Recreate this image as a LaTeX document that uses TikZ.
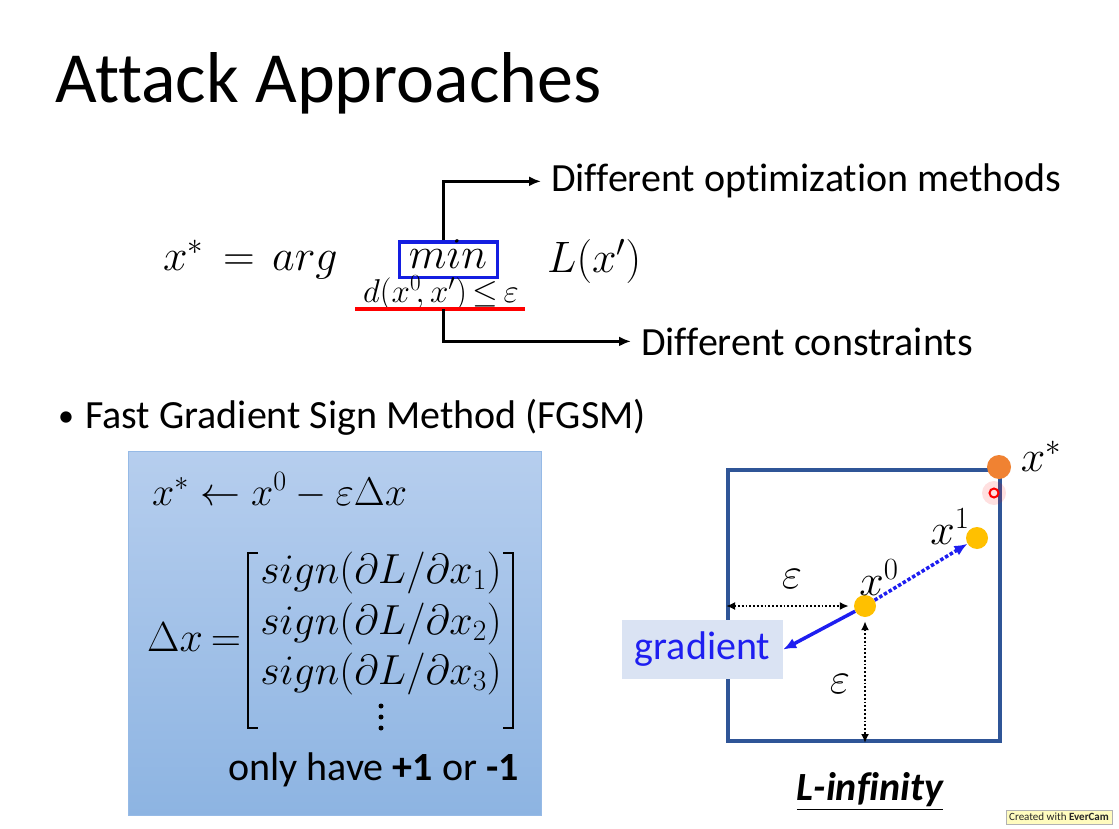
\RequirePackage{fix-cm}
\documentclass[tikz,border=0pt]{standalone}
\usepackage{amsmath}
\usepackage{fontspec}
\setmainfont{Carlito}[Ligatures={NoCommon,NoRequired,NoContextual}]
\usetikzlibrary{arrows.meta}
\definecolor{sqcol}{RGB}{47,85,151}
\definecolor{ptyellow}{RGB}{255,192,0}
\definecolor{ptorange}{RGB}{240,130,50}
\definecolor{gradfill}{RGB}{218,227,243}
\definecolor{gradblue}{RGB}{30,30,240}
\definecolor{minblue}{RGB}{20,30,225}
\definecolor{boxtop}{RGB}{182,206,238}
\definecolor{boxbot}{RGB}{141,180,226}
\definecolor{boxline}{RGB}{150,186,230}
\tikzset{
  txt/.style={anchor=base west, inner sep=0pt},
  body/.style={font=\fontsize{40}{46}\selectfont},
  mathbig/.style={font=\fontsize{44}{52}\selectfont},
  mathmat/.style={font=\fontsize{42}{50}\selectfont},
  pt/.style={circle, inner sep=0pt, minimum size=22pt, fill=ptyellow},
  connector/.style={line width=3pt, -{Latex[length=12pt,width=10pt]}},
  epsarrow/.style={line width=1.8pt, dotted, {Latex[length=9pt,width=8pt]}-{Latex[length=9pt,width=8pt]}},
  bracket/.style={line width=2.6pt},
  vdot/.style={circle, fill=black, inner sep=0pt, minimum size=5pt},
}
\begin{document}
\begin{tikzpicture}[x=1pt,y=-1pt]
\useasboundingbox (0,0) rectangle (1119,829);
\fill[white] (0,0) rectangle (1119,829);

% title
\node[txt, font=\fontsize{72}{80}\selectfont] (title) at (55,103) {Attack Approaches};

% main equation
\node[txt, mathbig] (xstar) at (163,270) {$x^*$};
\node[anchor=base, inner sep=0pt, mathbig] (eq) at (239,270) {$=$};
\node[txt, mathbig] (arg) at (272,270) {$arg$};
\node[draw=minblue, line width=3pt, minimum width=98pt, minimum height=35pt, inner sep=0pt] (minbox) at (448,259.5) {};
\node[anchor=base, inner sep=0pt, mathbig] (mintext) at (448,269) {$min$};
\node[anchor=base, inner sep=0pt, font=\fontsize{33}{40}\selectfont] (sub) at (441,302) {$d(x^0\!,x')\,{\le}\,\varepsilon$};
\node[txt, mathbig] (Lx) at (547,272) {$L(x')$};
\coordinate (ulL) at (355,309);
\coordinate (ulR) at (525,309);
\draw[red, line width=4pt] (ulL) -- (ulR);
\coordinate (ulM) at (443,309);

\node[txt, body] (opt) at (551,192) {Different optimization methods};
\node[txt, body] (cons) at (641,355) {Different constraints};
\draw[connector, shorten >=10pt] (minbox.north -| ulM) |- (opt.west);
\draw[connector, shorten >=10pt] (ulM) |- (cons.west);

% bullet
\node[txt, font=\fontsize{32}{40}\selectfont] (bul) at (58,426) {•};
\node[txt, body] (fgsm) at (85,428) {Fast Gradient Sign Method (FGSM)};

% FGSM box
\node[draw=boxline, line width=1pt, top color=boxtop, bottom color=boxbot, minimum width=413pt, minimum height=364pt, inner sep=0pt] (box) at (334.5,633) {};
\node[txt, font=\fontsize{40}{48}\selectfont] (upd) at (152,505) {$x^* \leftarrow x^0 - \varepsilon\Delta x$};
\node[txt, mathmat] (dx) at (147,651) {$\Delta x$};
\node[anchor=base, inner sep=0pt, mathmat] (dxeq) at (226,651) {$=$};
\node[anchor=base, inner sep=0pt, mathmat] (r1) at (381,583) {$sign(\partial L/\partial x_1)$};
\node[anchor=base, inner sep=0pt, mathmat] (r2) at (381,634) {$sign(\partial L/\partial x_2)$};
\node[anchor=base, inner sep=0pt, mathmat] (r3) at (381,684) {$sign(\partial L/\partial x_3)$};
\node[vdot] (d1) at (381,706) {};
\node[vdot] (d2) at (381,717) {};
\node[vdot] (d3) at (381,728) {};
\draw[bracket] (258,553) -- (248,553) -- (248,728) -- (258,728);
\draw[bracket] (503,553) -- (513,553) -- (513,728) -- (503,728);
\node[txt, body] (only) at (228,780) {only have \textbf{+1} or \textbf{-1}};

% L-infinity square
\node[draw=sqcol, line width=4pt, minimum width=272pt, minimum height=271pt, inner sep=0pt] (sq) at (864,605.5) {};
\node[pt] (x0) at (865,606) {};
\node[pt] (x1) at (977,538) {};
\node[pt, fill=ptorange, minimum size=24pt] (xs) at (999,467) {};
\fill[red, opacity=0.12] (994,493) circle (12pt);
\node[circle, draw=red, line width=2pt, minimum size=9pt, inner sep=0pt] (cur) at (994,493) {};

\node[mathbig, inner sep=0pt] (lx0) at (879,578) {$x^0$};
\node[mathbig, inner sep=0pt] (lx1) at (950,527) {$x^1$};
\node[mathbig, inner sep=0pt] (lxs) at (1041,456) {$x^*$};
\node[mathbig, inner sep=0pt] (e1) at (792,579) {$\varepsilon$};
\node[mathbig, inner sep=0pt] (e2) at (840,684) {$\varepsilon$};

\draw[epsarrow, shorten >=5pt] (sq.west |- x0) -- (x0.west);
\draw[epsarrow, shorten <=4pt] (x0.south) -- (x0 |- sq.south);

\draw[gradblue, line width=3.5pt, dotted, -{Latex[length=13pt,width=11pt]}] (x0) -- (x1);

\node[fill=gradfill, minimum width=161pt, minimum height=59pt, inner sep=0pt, text=gradblue, body] (grad) at (702.5,649.5) {gradient};
\draw[gradblue, line width=3.5pt, -{Latex[length=13pt,width=11pt]}] (x0) -- (grad.east);

\node[anchor=base, inner sep=0pt, font=\fontsize{40}{46}\selectfont\bfseries\itshape] (linf) at (870,800) {\underline{L-infinity}};

% watermark
\node[anchor=north west, fill=yellow!25, draw=gray!60, inner sep=3pt, font=\fontsize{11}{12}\selectfont, text=gray!30!black] (wm) at (1006,810) {Created with \textbf{EverCam}};
\end{tikzpicture}
\end{document}
